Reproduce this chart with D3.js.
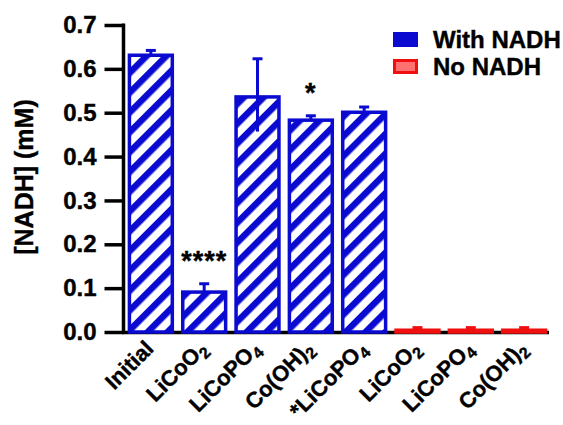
<!DOCTYPE html>
<html>
<head>
  <meta charset="utf-8">
  <title>NADH bar chart</title>
  <script src="https://d3js.org/d3.v7.min.js"></script>
  <style>
    body { margin: 0; background: #fff; }
    text { font-family: "Liberation Sans", Arial, sans-serif; font-weight: bold; stroke: #000; stroke-width: 0.4px; }
  </style>
</head>
<body>
  <div id="chart"></div>

  <script>
    // Data
    const categories = ["Initial", "LiCoO2", "LiCoPO4", "Co(OH)2", "*LiCoPO4", "LiCoO2 ", "LiCoPO4 ", "Co(OH)2 "];
    const values = [0.635, 0.095, 0.540, 0.487, 0.505, 0.008, 0.008, 0.008];
    const errors = [0.007, 0.015, 0.083, 0.006, 0.008, 0.002, 0.002, 0.002];
    const series = ["with", "with", "with", "with", "with", "none", "none", "none"];
    const stars = ["", "****", "", "*", "", "", "", ""];
    const yTicks = [0, 0.1, 0.2, 0.3, 0.4, 0.5, 0.6, 0.7];
    const legendLabels = ["With NADH", "No NADH"];

    const width = 563, height = 425;
    const blue = "#0a0ad0", red = "#f01010";

    const svg = d3.select("#chart")
      .append("svg")
      .attr("width", width)
      .attr("height", height);

    // stripe pattern for the "with NADH" bars
    const defs = svg.append("defs");
    const pat = defs.append("pattern")
      .attr("id", "stripes")
      .attr("patternUnits", "userSpaceOnUse")
      .attr("width", 14)
      .attr("height", 14)
      .attr("patternTransform", "rotate(45)");
    pat.append("rect").attr("width", 14).attr("height", 14).attr("fill", "#fff");
    pat.append("rect").attr("width", 6.5).attr("height", 14).attr("fill", blue);

    // scales
    const x = d3.scaleBand()
      .domain(categories)
      .range([125, 550])
      .paddingInner(0.13)
      .paddingOuter(0.05);

    const y = d3.scaleLinear()
      .domain([0, 0.7])
      .range([332, 25]);

    const fillOf = (s) => s === "with" ? "url(#stripes)" : red;
    const strokeOf = (s) => s === "with" ? blue : red;
    const sw = 3.5;

    // x axis baseline (drawn first, the thin red bars sit on it)
    svg.append("line")
      .attr("x1", 122).attr("x2", 549)
      .attr("y1", 332.5).attr("y2", 332.5)
      .attr("stroke", "#000").attr("stroke-width", 3.5);

    // bars
    svg.selectAll(".bar")
      .data(values)
      .enter()
      .append("rect")
      .attr("class", "bar")
      .attr("x", (d, i) => x(categories[i]) + sw / 2)
      .attr("width", x.bandwidth() - sw)
      .attr("y", d => y(d) + sw / 2)
      .attr("height", d => Math.max(0, y(0) - y(d) - sw / 2))
      .attr("fill", (d, i) => fillOf(series[i]))
      .attr("stroke", (d, i) => strokeOf(series[i]))
      .attr("stroke-width", sw);

    // error bars
    const eb = svg.selectAll(".err")
      .data(values)
      .enter()
      .append("g")
      .attr("class", "err")
      .attr("stroke", (d, i) => strokeOf(series[i]))
      .attr("stroke-width", 3);
    eb.append("line")
      .attr("x1", (d, i) => x(categories[i]) + x.bandwidth() / 2)
      .attr("x2", (d, i) => x(categories[i]) + x.bandwidth() / 2)
      .attr("y1", (d, i) => y(d - errors[i]))
      .attr("y2", (d, i) => y(d + errors[i]));
    eb.append("line")
      .attr("x1", (d, i) => x(categories[i]) + x.bandwidth() / 2 - 5)
      .attr("x2", (d, i) => x(categories[i]) + x.bandwidth() / 2 + 5)
      .attr("y1", (d, i) => y(d + errors[i]))
      .attr("y2", (d, i) => y(d + errors[i]));

    // significance stars
    svg.selectAll(".star")
      .data(stars)
      .enter()
      .append("text")
      .attr("class", "star")
      .attr("x", (d, i) => x(categories[i]) + x.bandwidth() / 2)
      .attr("y", (d, i) => y(values[i] + errors[i]) - 14)
      .attr("text-anchor", "middle")
      .attr("font-size", 27)
      .attr("letter-spacing", 1)
      .text(d => d);

    // y axis
    const yAxis = svg.append("g")
      .attr("transform", "translate(123.5,0)")
      .call(d3.axisLeft(y).tickValues(yTicks).tickFormat(d3.format(".1f")).tickSize(19).tickPadding(8));
    yAxis.select(".domain").attr("stroke", "#000").attr("stroke-width", 3.5).attr("d", "M0,23.5V333.5");
    yAxis.selectAll(".tick line").attr("stroke", "#000").attr("stroke-width", 3.5);
    yAxis.selectAll(".tick text")
      .attr("font-size", 24)
      .attr("font-family", "Liberation Sans, Arial, sans-serif")
      .attr("font-weight", "bold")
      .attr("fill", "#000");

    // x labels with subscripts
    const xl = svg.selectAll(".xlab")
      .data(categories)
      .enter()
      .append("text")
      .attr("class", "xlab")
      .attr("text-anchor", "end")
      .attr("font-size", 22)
      .attr("transform", d => `translate(${x(d) + x.bandwidth() / 2 + 4},${350}) rotate(-45)`);
    xl.each(function (d) {
      const t = d3.select(this);
      const parts = d.trim().match(/[^0-9]+|[0-9]+/g);
      parts.forEach(p => {
        if (/^[0-9]+$/.test(p)) {
          t.append("tspan").attr("font-size", 16).attr("dy", 5).text(p);
        } else {
          const s = t.append("tspan").text(p);
          if (t.selectAll("tspan").size() > 1) s.attr("dy", -5);
        }
      });
    });

    // y axis title
    svg.append("text")
      .attr("transform", "translate(33,177) rotate(-90)")
      .attr("text-anchor", "middle")
      .attr("font-size", 25)
      .text("[NADH] (mM)");

    // legend
    const leg = svg.append("g");
    legendLabels.forEach((lab, i) => {
      const s = i === 0 ? "with" : "none";
      leg.append("rect")
        .attr("x", 394.5).attr("y", 33.5 + i * 27)
        .attr("width", 22).attr("height", 12)
        .attr("fill", s === "with" ? blue : "#ff7070")
        .attr("stroke", strokeOf(s)).attr("stroke-width", 3);
      leg.append("text")
        .attr("x", 433).attr("y", 48 + i * 27)
        .attr("font-size", 24)
        .text(lab);
    });
  </script>
</body>
</html>
